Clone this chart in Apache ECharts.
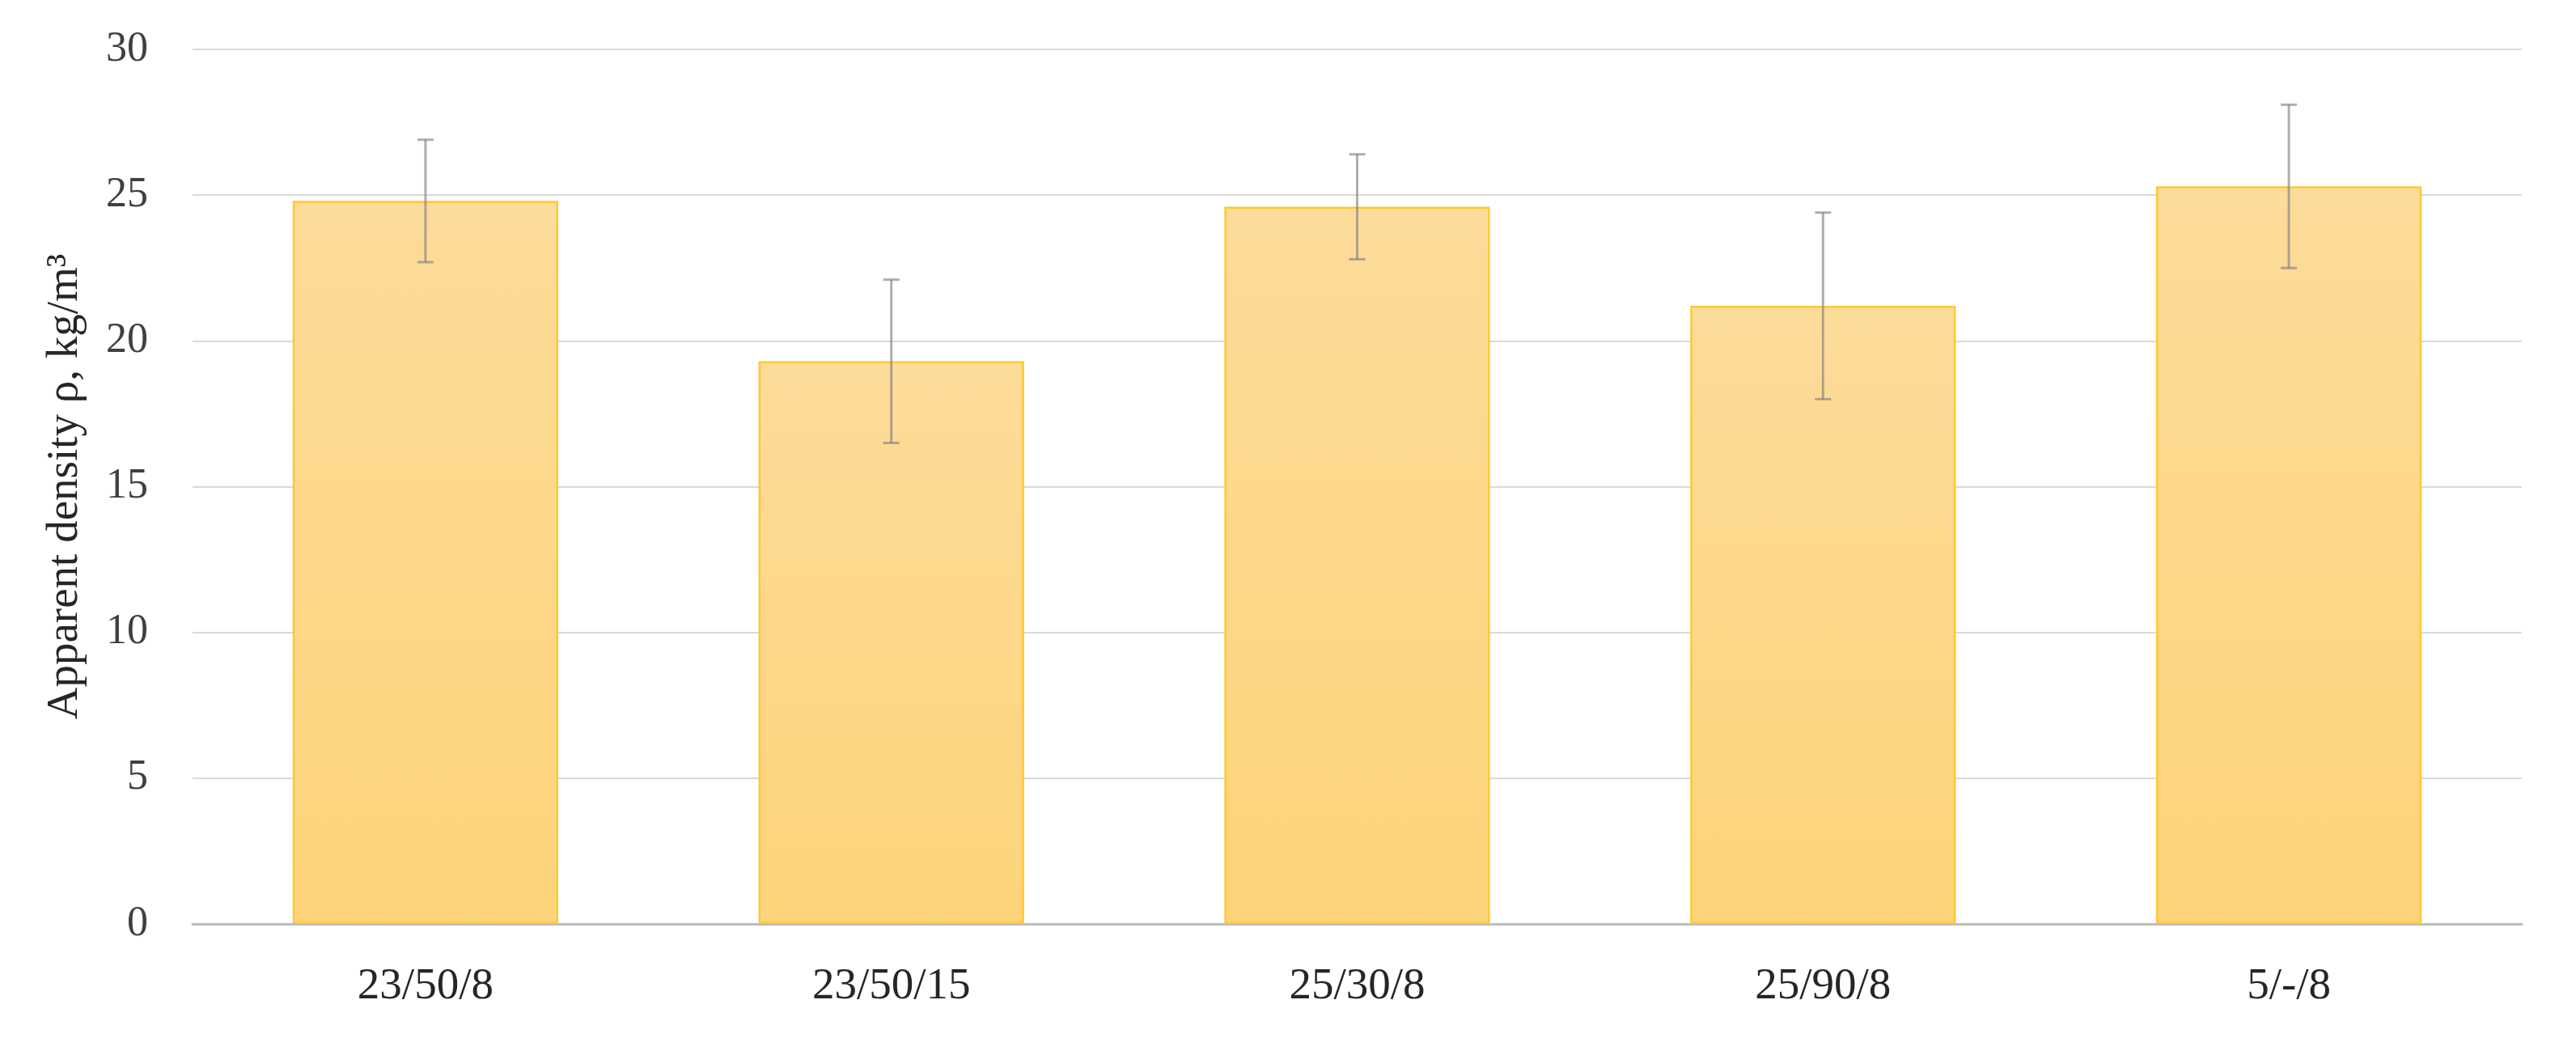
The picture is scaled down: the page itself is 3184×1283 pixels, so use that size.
<!DOCTYPE html>
<html>
<head>
<meta charset="utf-8">
<script src="https://cdn.jsdelivr.net/npm/echarts@6/dist/echarts.min.js"></script>
<style>html,body{margin:0;padding:0;background:#fff}#c{width:3184px;height:1283px}</style>
</head>
<body>
<div id="c"></div>
<script>
const categories = ['23/50/8', '23/50/15', '25/30/8', '25/90/8', '5/-/8'];
const densityMean = [24.8, 19.3, 24.6, 21.2, 25.3];
const densitySD = [2.1, 2.8, 1.8, 3.2, 2.8];
const yTicks = [0, 5, 10, 15, 20, 25, 30];

const errData = categories.map((c, i) => [i, densityMean[i] - densitySD[i], densityMean[i] + densitySD[i]]);
const FONT = '"Liberation Serif", "Times New Roman", serif';

const chart = echarts.init(document.getElementById('c'));
chart.setOption({
  animation: false,
  backgroundColor: '#ffffff',
  grid: { left: 238, right: 67, top: 61, bottom: 141 },
  xAxis: {
    type: 'category',
    data: categories,
    axisTick: { show: false },
    axisLine: { lineStyle: { color: '#bdbdbd', width: 3 } },
    axisLabel: { color: '#262626', fontFamily: FONT, fontSize: 55, margin: 50 }
  },
  yAxis: {
    type: 'value',
    min: yTicks[0],
    max: yTicks[yTicks.length - 1],
    interval: 5,
    name: 'Apparent density ρ, kg/m³',
    nameLocation: 'middle',
    nameGap: 130,
    nameTextStyle: { color: '#262626', fontFamily: FONT, fontSize: 55 },
    axisLine: { show: false },
    axisTick: { show: false },
    splitLine: { lineStyle: { color: '#d9d9d9', width: 2 } },
    axisLabel: { color: '#404040', fontFamily: FONT, fontSize: 52, margin: 55 }
  },
  series: [
    {
      type: 'bar',
      data: densityMean,
      barWidth: '57%',
      itemStyle: {
        color: new echarts.graphic.LinearGradient(0, 0, 0, 1, [
          { offset: 0, color: '#FDDB99' },
          { offset: 1, color: '#FDD47A' }
        ]),
        borderColor: '#FFC830',
        borderWidth: 2.5
      },
      z: 2
    },
    {
      type: 'custom',
      data: errData,
      z: 10,
      renderItem: function (params, api) {
        const x = api.value(0);
        const lo = api.coord([x, api.value(1)]);
        const hi = api.coord([x, api.value(2)]);
        const hw = 10;
        const style = { stroke: 'rgba(130,130,130,0.65)', lineWidth: 3 };
        return {
          type: 'group',
          children: [
            { type: 'line', shape: { x1: hi[0], y1: hi[1], x2: lo[0], y2: lo[1] }, style: style },
            { type: 'line', shape: { x1: hi[0] - hw, y1: hi[1], x2: hi[0] + hw, y2: hi[1] }, style: style },
            { type: 'line', shape: { x1: lo[0] - hw, y1: lo[1], x2: lo[0] + hw, y2: lo[1] }, style: style }
          ]
        };
      }
    }
  ]
});
</script>
</body>
</html>
